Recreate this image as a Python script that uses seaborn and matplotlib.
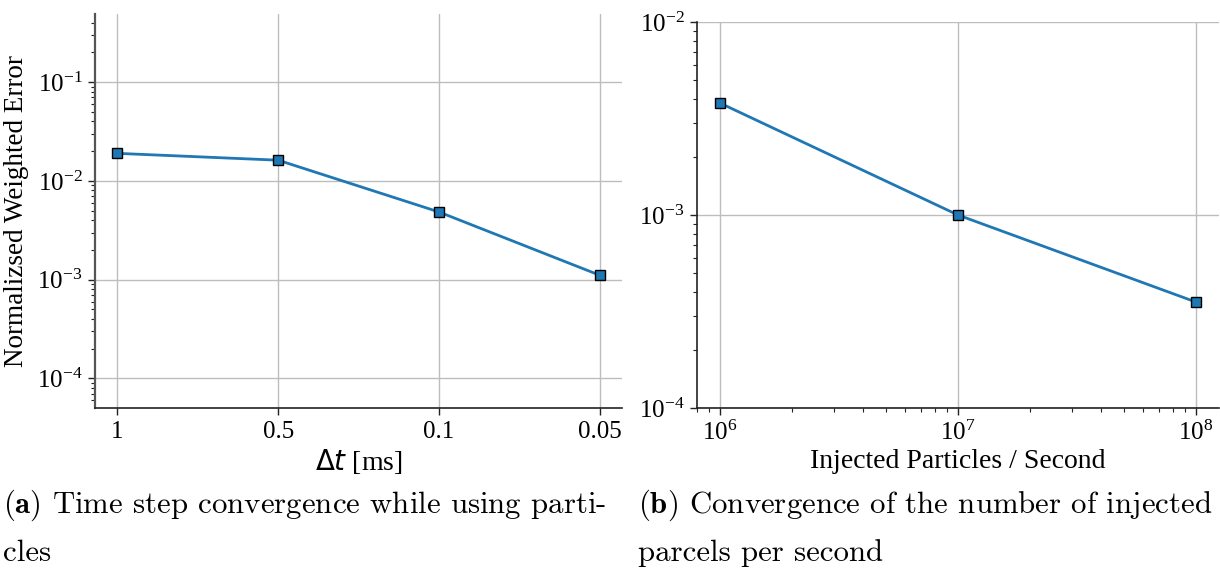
import numpy as np
import pandas as pd
import matplotlib
matplotlib.use("Agg")
import matplotlib.pyplot as plt
import matplotlib.ticker as mticker
import seaborn as sns

# ---- data ----
dt_labels = ["1", "0.5", "0.1", "0.05"]
dt_error = [0.019, 0.0162, 0.00485, 0.00111]

particles = [1e6, 1e7, 1e8]
particles_error = [0.0038, 0.00100, 0.000354]

caption_a = ["Time step convergence while using parti-", "cles"]
caption_b = ["Convergence of the number of injected", "parcels per second"]

sns.set_theme(style="whitegrid")
plt.rcParams["font.family"] = ["Liberation Serif", "DejaVu Serif"]
plt.rcParams["mathtext.fontset"] = "dejavusans"

line_color = "#1f77b4"
fig = plt.figure(figsize=(12.2, 5.7), dpi=100)
ax1 = fig.add_axes([95/1220, 1-408/570, (622-95)/1220, (408-14)/570])
ax2 = fig.add_axes([697/1220, 1-408/570, (1219-697)/1220, (408-22)/570])

df_a = pd.DataFrame({"dt": dt_labels, "err": dt_error})
sns.pointplot(data=df_a, x="dt", y="err", order=dt_labels, color=line_color,
              markers="s", linestyles="-", ax=ax1, markersize=6.5,
              markeredgecolor="black", markeredgewidth=1.0, linewidth=2)
ax1.set_yscale("log")
ax1.set_ylim(10**-4.3, 10**-0.31)
ax1.set_xlim(-0.14, 3.14)

df_b = pd.DataFrame({"p": particles, "err": particles_error})
sns.lineplot(data=df_b, x="p", y="err", color=line_color, marker="s", ax=ax2,
             markersize=6.5, markeredgecolor="black", markeredgewidth=1.0, linewidth=2)
ax2.set_xscale("log")
ax2.set_yscale("log")
ax2.set_xlim(10**5.903, 10**8.097)
ax2.set_ylim(1e-4, 1e-2)

for ax in (ax1, ax2):
    ax.set_facecolor("white")
    ax.grid(True, which="major", color="#bdbdbd", linewidth=1.0)
    ax.grid(False, which="minor")
    ax.xaxis.grid(True, which="major", color="#bdbdbd", linewidth=1.0)
    for s in ("top", "right"):
        ax.spines[s].set_visible(False)
    for s in ("left", "bottom"):
        ax.spines[s].set_visible(True)
        ax.spines[s].set_color("#222222")
        ax.spines[s].set_linewidth(1.2)
    ax.tick_params(axis="both", which="major", direction="out", length=5, width=1,
                   colors="#222222", labelsize=18, left=True, bottom=True, pad=4)
    ax.tick_params(axis="both", which="minor", direction="out", length=3, width=0.8,
                   colors="#222222", left=True, bottom=True)
    ax.yaxis.set_major_locator(mticker.LogLocator(base=10, numticks=10))
    ax.yaxis.set_minor_locator(mticker.LogLocator(base=10, subs=np.arange(2, 10), numticks=10))

ax1.spines["left"].set_color("#555555")
ax1.spines["left"].set_linewidth(1.6)
ax2.xaxis.set_minor_locator(mticker.LogLocator(base=10, subs=np.arange(2, 10), numticks=10))
for lbl in ax1.get_xticklabels() + ax1.get_yticklabels() + ax2.get_xticklabels() + ax2.get_yticklabels():
    lbl.set_color("black")

ax1.set_xlabel(r"$\Delta t$ [ms]", fontsize=20, color="black", labelpad=3)
ax1.set_ylabel("Normalizsed Weighted Error", fontsize=19.5, color="black", labelpad=6)
ax2.set_xlabel("Injected Particles / Second", fontsize=20, color="black", labelpad=3)
ax2.set_ylabel("")

cap_kw = dict(fontsize=22.2, family="cmr10", math_fontfamily="cm", color="black", va="baseline")
fig.text(3/1220, 1-513/570, r"$\mathbf{(a)}$ " + caption_a[0], **cap_kw)
fig.text(3/1220, 1-561/570, caption_a[1], **cap_kw)
fig.text(638/1220, 1-513/570, r"$\mathbf{(b)}$ " + caption_b[0], **cap_kw)
fig.text(638/1220, 1-561/570, caption_b[1], **cap_kw)

fig.savefig("out.png", dpi=100, facecolor="white")
